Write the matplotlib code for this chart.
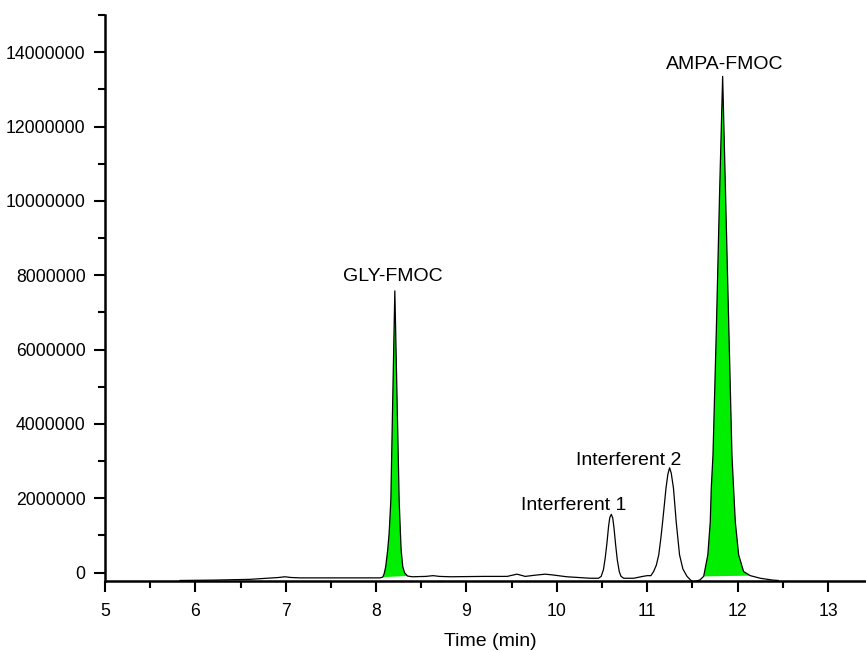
"""Chromatogram of FMOC-derivatised glyphosate / AMPA with interferents."""

import matplotlib

matplotlib.use("Agg")
import matplotlib.pyplot as plt
import numpy as np
from matplotlib.ticker import MultipleLocator

plt.rcParams["font.family"] = ["Liberation Sans", "DejaVu Sans"]

# signal (time in min, intensity in counts)
time_min = [
    # baseline before GLY
    5.83, 6.20, 6.60, 6.79, 6.92, 6.99, 7.06, 7.16, 7.60, 8.04,
    # GLY-FMOC
    8.074, 8.09, 8.106, 8.128, 8.144, 8.163, 8.181, 8.195, 8.207,
    8.220, 8.235, 8.255, 8.269, 8.277, 8.295, 8.315, 8.347,
    # baseline 8.4 - 10.4
    8.40, 8.55, 8.63, 8.70, 8.82, 9.20, 9.45, 9.558, 9.65, 9.75,
    9.87, 9.95, 10.11, 10.37,
    # Interferent 1
    10.46, 10.49, 10.515, 10.535, 10.554, 10.572, 10.585, 10.602, 10.618,
    10.632, 10.65, 10.668, 10.69, 10.71, 10.74, 10.85, 10.95, 11.00, 11.04,
    # Interferent 2
    11.07, 11.10, 11.127, 11.15, 11.17, 11.19, 11.207, 11.228, 11.247,
    11.265, 11.29, 11.32, 11.357, 11.394, 11.44, 11.48, 11.512, 11.58,
    # AMPA-FMOC and tail
    11.624, 11.67, 11.697, 11.708, 11.727, 11.765, 11.80, 11.834, 11.866,
    11.902, 11.937, 11.955, 11.974, 12.011, 12.066, 12.14, 12.25, 12.39, 12.45,
]
intensity = [
    -0.21e6, -0.20e6, -0.18e6, -0.15e6, -0.13e6, -0.11e6, -0.13e6, -0.14e6, -0.14e6, -0.14e6,
    -0.12e6, -0.02e6, 0.16e6, 0.61e6, 1.06e6, 1.95e6, 4.29e6, 6.07e6, 7.58e6,
    6.07e6, 4.29e6, 1.95e6, 1.06e6, 0.61e6, 0.16e6, 0.0, -0.09e6,
    -0.11e6, -0.10e6, -0.08e6, -0.10e6, -0.11e6, -0.10e6, -0.10e6, -0.04e6, -0.10e6, -0.07e6,
    -0.04e6, -0.06e6, -0.11e6, -0.15e6,
    -0.15e6, -0.10e6, 0.08e6, 0.40e6, 0.80e6, 1.25e6, 1.48e6, 1.57e6, 1.47e6,
    1.20e6, 0.75e6, 0.35e6, 0.03e6, -0.10e6, -0.15e6, -0.15e6, -0.10e6, -0.08e6, -0.08e6,
    0.03e6, 0.20e6, 0.48e6, 0.92e6, 1.37e6, 1.85e6, 2.27e6, 2.65e6, 2.82e6,
    2.68e6, 2.27e6, 1.37e6, 0.48e6, 0.10e6, -0.10e6, -0.20e6, -0.24e6, -0.20e6,
    -0.10e6, 0.48e6, 1.37e6, 2.27e6, 3.16e6, 6.61e6, 10.2e6, 13.35e6, 10.2e6,
    6.61e6, 3.16e6, 2.27e6, 1.37e6, 0.48e6, 0.03e6, -0.08e6, -0.15e6, -0.20e6, -0.21e6,
]

# integrated (green) peaks: start / end of integration window
filled_peaks = [(8.074, 8.347), (11.624, 12.14)]

peak_labels = ["GLY-FMOC", "Interferent 1", "Interferent 2", "AMPA-FMOC"]
label_time = [8.183, 10.186, 10.79, 11.853]
label_level = [7.84e6, 1.68e6, 2.90e6, 13.56e6]

t = np.array(time_min)
y = np.array(intensity)

fig = plt.figure(figsize=(8.66, 6.52), dpi=100)
ax = fig.add_axes([0.1212, 0.1094, 0.8788, 0.8676])

for start, end in filled_peaks:
    mask = (t >= start) & (t <= end)
    ax.fill(t[mask], y[mask], color="#00ee00", linewidth=0, zorder=1)

ax.plot(t, y, color="black", linewidth=0.9, zorder=2)

for name, lx, ly in zip(peak_labels, label_time, label_level):
    ax.text(lx, ly, name, ha="center", va="baseline", fontsize=14)

ax.set_xlim(5, 13.42)
ax.set_ylim(-0.215e6, 15e6)
ax.xaxis.set_major_locator(MultipleLocator(1))
ax.xaxis.set_minor_locator(MultipleLocator(0.5))
ax.yaxis.set_major_locator(MultipleLocator(2e6))
ax.yaxis.set_minor_locator(MultipleLocator(1e6))
ax.yaxis.set_major_formatter(plt.FuncFormatter(lambda v, _: f"{v:.0f}"))

for side in ("top", "right"):
    ax.spines[side].set_visible(False)
for side in ("left", "bottom"):
    ax.spines[side].set_linewidth(1.8)

ax.tick_params(which="major", direction="out", length=8, width=1.5, labelsize=12.7, pad=6)
ax.tick_params(which="minor", direction="out", length=5, width=1.5)
ax.tick_params(axis="x", which="major", pad=8)

ax.set_xlabel("Time (min)", fontsize=14)
ax.xaxis.set_label_coords(0.506, -0.092)

fig.savefig("out.png", dpi=100)
